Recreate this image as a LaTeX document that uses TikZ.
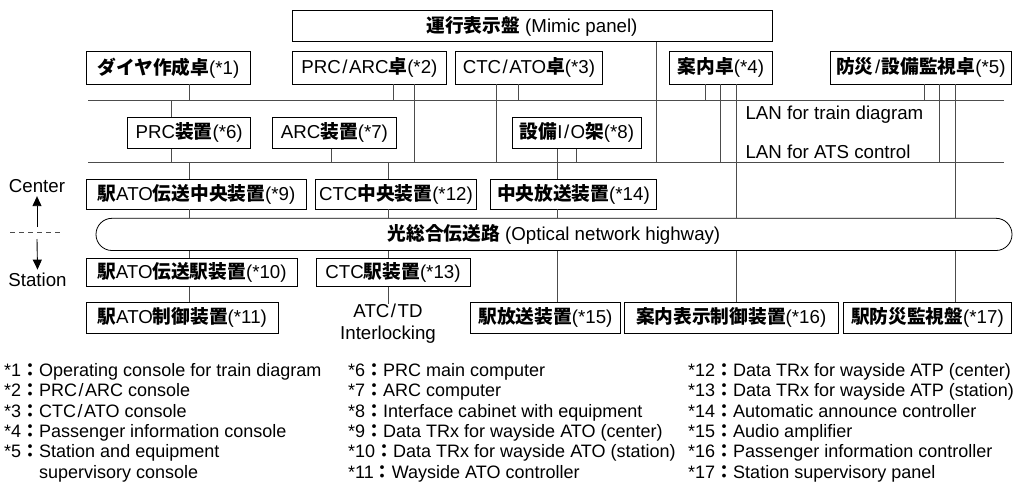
\documentclass[tikz,border=0pt]{standalone}
\usepackage{fontspec}
\setmainfont{Liberation Sans}
\newfontfamily\jpfont{Noto Sans CJK JP}
\usetikzlibrary{arrows.meta}
\newcommand{\jb}[1]{{\jpfont\bfseries #1}}
\newcommand{\sla}{\kern1.5pt/\kern1.5pt}

\begin{document}
\begin{tikzpicture}[
  x=1pt, y=-1pt,
  >={Triangle[length=10pt,width=9pt]},
  every node/.style={font=\fontsize{18.7}{20.4}\selectfont},
  unit/.style={draw, line width=0.8pt, inner sep=0pt, minimum height=31pt},
  wire/.style={line width=0.9pt, black!70},
  legend/.style={anchor=north west, align=left, inner sep=0pt,
                 font=\fontsize{18}{20.4}\selectfont},
]
  \useasboundingbox (0,0) rectangle (1025,488);

  % Mimic panel and consoles
  \node[unit, minimum width=480pt] (mimic) at (532,26.2) {\jb{運行表示盤} (Mimic panel)};
  \node[unit, minimum width=164.7pt, minimum height=32.3pt] (dia) at (168.4,67.9) {\jb{ダイヤ作成卓}(*1)};
  \node[unit, minimum width=154.7pt, minimum height=32.3pt] (prcarc) at (369.4,67.9) {PRC\sla ARC\jb{卓}(*2)};
  \node[unit, minimum width=147.7pt, minimum height=32.3pt] (ctcato) at (528.9,67.9) {CTC\sla ATO\jb{卓}(*3)};
  \node[unit, minimum width=103.4pt, minimum height=32.3pt] (annai) at (721,67.9) {\jb{案内卓}(*4)};
  \node[unit, minimum width=181.7pt, minimum height=32.3pt] (bousai) at (920.9,67.9) {\jb{防災}\sla\jb{設備監視卓}(*5)};

  % LANs
  \coordinate (lan1w) at (88,100.5);
  \coordinate (lan1e) at (1004,100.5);
  \coordinate (lan2w) at (88,162);
  \coordinate (lan2e) at (1004,162);
  \draw[wire] (lan1w) -- (lan1e);
  \draw[wire] (lan2w) -- (lan2e);
  \node[anchor=west] (lantd) at (742,115) {LAN for train diagram};
  \node[anchor=west] (lanats) at (742,151.5) {LAN for ATS control};

  % Computers
  \node[unit, minimum width=123pt] (prc) at (189.2,132.8) {PRC\jb{装置}(*6)};
  \node[unit, minimum width=124.7pt] (arc) at (334.4,132.8) {ARC\jb{装置}(*7)};
  \node[unit, minimum width=129.4pt] (io) at (577,132.8) {\jb{設備}I\sla O\jb{架}(*8)};

  % Center side
  \node[unit, minimum width=220.7pt, minimum height=29.7pt] (atoc) at (196.4,194.2) {\jb{駅}ATO\jb{伝送中央装置}(*9)};
  \node[unit, minimum width=161.7pt, minimum height=29.7pt] (ctcc) at (395.9,194.2) {CTC\jb{中央装置}(*12)};
  \node[unit, minimum width=166.7pt, minimum height=29.7pt] (hosoc) at (573.4,194.2) {\jb{中央放送装置}(*14)};

  % Optical network highway
  \node[unit, minimum width=916pt, minimum height=32.2pt, rounded corners=16pt] (hway) at (554,234.4)
    {\jb{光総合伝送路} (Optical network highway)};

  % Station side
  \node[unit, minimum width=211.7pt, minimum height=28pt] (atos) at (191.9,272.3) {\jb{駅}ATO\jb{伝送駅装置}(*10)};
  \node[unit, minimum width=154pt, minimum height=28pt] (ctcs) at (393,272.3) {CTC\jb{駅装置}(*13)};
  \node[unit, minimum width=192.3pt] (atoctl) at (182.2,317.5) {\jb{駅}ATO\jb{制御装置}(*11)};
  \node[align=center, inner sep=0pt, font=\fontsize{18.7}{22}\selectfont] (atctd) at (388,324) {ATC\sla TD\\Interlocking};
  \node[unit, minimum width=149.3pt] (hosos) at (545.4,317.5) {\jb{駅放送装置}(*15)};
  \node[unit, minimum width=213.7pt] (annaid) at (731.2,317.5) {\jb{案内表示制御装置}(*16)};
  \node[unit, minimum width=168.7pt] (bousais) at (927.4,317.5) {\jb{駅防災監視盤}(*17)};

  % Center / Station marker
  \node (center) at (37,186) {Center};
  \node (station) at (37.5,280) {Station};
  \coordinate (divl) at (10,232.3);
  \coordinate (divr) at (63,232.3);
  \coordinate (upfoot) at (37,227);
  \coordinate (downfoot) at (37,239);
  \draw[black!70, line width=0.9pt, dash pattern=on 5pt off 4pt] (divl) -- (divr);
  \draw[->, line width=0.9pt] (upfoot) -- (center.south);
  \draw[->, line width=0.9pt] (downfoot) -- (station.north);

  % Links to the LANs
  \draw[wire] (dia.south -| 189,0) -- (lan1w -| 189,0);
  \draw[wire] (lan1w -| 171,0) -- (prc.north -| 171,0);
  \draw[wire] (prc.south -| 171,0) -- (lan2w -| 171,0);
  \draw[wire] (arc.south -| 331,0) -- (lan2w -| 331,0);
  \draw[wire] (prcarc.south -| 393,0) -- (lan1w -| 393,0);
  \draw[wire] (prcarc.south -| 414,0) -- (lan2w -| 414,0);
  \draw[wire] (ctcato.south -| 518,0) -- (lan1w -| 518,0);
  \draw[wire] (ctcato.south -| 496,0) -- (lan2w -| 496,0);
  \draw[wire] (mimic.south -| 656,0) -- (lan2w -| 656,0);
  \draw[wire] (io.south -| 576,0) -- (lan2w -| 576,0);
  \draw[wire] (annai.south -| 705,0) -- (lan1w -| 705,0);
  \draw[wire] (annai.south -| 720,0) -- (lan2w -| 720,0);
  \draw[wire] (bousai.south -| 924,0) -- (lan1w -| 924,0);
  \draw[wire] (bousai.south -| 939,0) -- (lan2w -| 939,0);

  % Links through the highway
  \draw[wire] (lan2w -| 189,0) -- (atoc.north -| 189,0);
  \draw[wire] (atoc.south -| 189,0) -- (hway.north -| 189,0);
  \draw[wire] (hway.south -| 189,0) -- (atos.north -| 189,0);
  \draw[wire] (atos.south -| 189,0) -- (atoctl.north -| 189,0);
  \draw[wire] (lan2w -| 388,0) -- (ctcc.north -| 388,0);
  \draw[wire] (ctcc.south -| 388,0) -- (hway.north -| 388,0);
  \draw[wire] (hway.south -| 388,0) -- (ctcs.north -| 388,0);
  \draw[wire] (ctcs.south -| 388,0) -- (atctd.north -| 388,0);
  \draw[wire] (io.south -| 557,0) -- (hosoc.north -| 557,0);
  \draw[wire] (hosoc.south -| 557,0) -- (hway.north -| 557,0);
  \draw[wire] (hway.south -| 557,0) -- (hosos.north -| 557,0);
  \draw[wire] (annai.south -| 736,0) -- (hway.north -| 736,0);
  \draw[wire] (hway.south -| 736,0) -- (annaid.north -| 736,0);
  \draw[wire] (bousai.south -| 955,0) -- (hway.north -| 955,0);
  \draw[wire] (hway.south -| 955,0) -- (bousais.north -| 955,0);

  % Key
  \node[legend] (keya) at (4,363) {*1\jb{：}Operating console for train diagram\\
    *2\jb{：}PRC\sla ARC console\\
    *3\jb{：}CTC\sla ATO console\\
    *4\jb{：}Passenger information console\\
    *5\jb{：}Station and equipment\\
    \phantom{*5\jb{：}}supervisory console};
  \node[legend] (keyb) at (348,363) {*6\jb{：}PRC main computer\\
    *7\jb{：}ARC computer\\
    *8\jb{：}Interface cabinet with equipment\\
    *9\jb{：}Data TRx for wayside ATO (center)\\
    *10\jb{：}Data TRx for wayside ATO (station)\\
    *11\jb{：}Wayside ATO controller};
  \node[legend] (keyc) at (688,363) {*12\jb{：}Data TRx for wayside ATP (center)\\
    *13\jb{：}Data TRx for wayside ATP (station)\\
    *14\jb{：}Automatic announce controller\\
    *15\jb{：}Audio amplifier\\
    *16\jb{：}Passenger information controller\\
    *17\jb{：}Station supervisory panel};
\end{tikzpicture}
\end{document}
